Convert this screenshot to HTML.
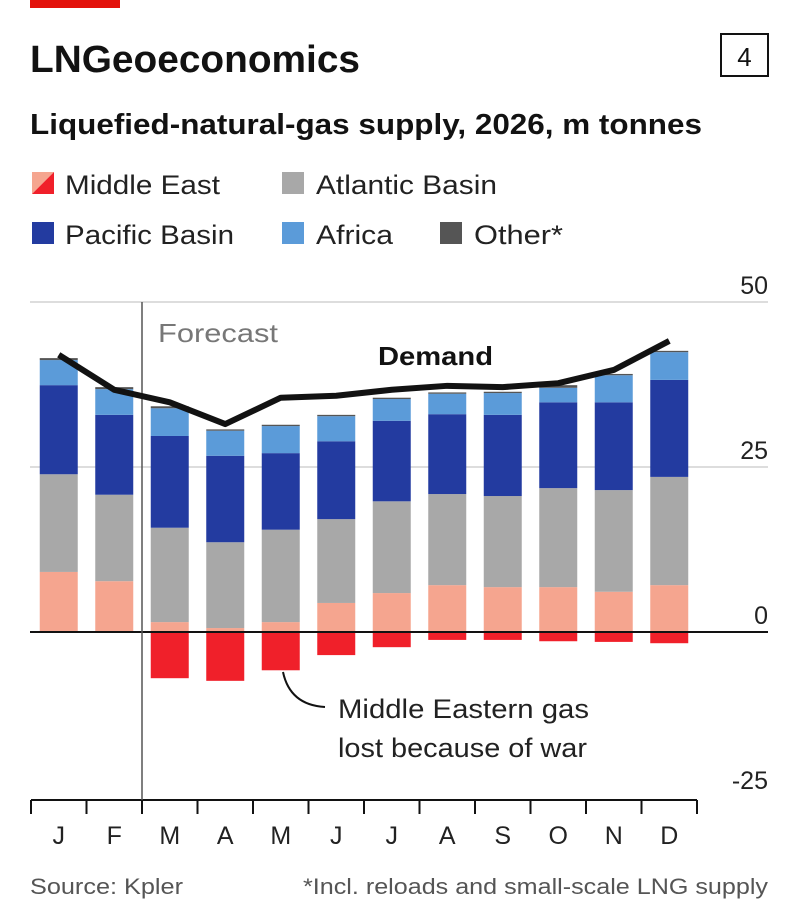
<!DOCTYPE html>
<html><head><meta charset="utf-8"><style>
body{margin:0;background:#fff;font-family:"Liberation Sans",sans-serif;}
#wrap{position:relative;width:800px;height:914px;overflow:hidden;background:#fff;}
</style></head><body>
<div id="wrap">
<svg id="svg" width="800" height="914">
<rect x="30" y="0" width="90" height="8" fill="#e3120b"/>
<text x="30" y="72" font-size="38" font-weight="bold" fill="#121212" textLength="330" lengthAdjust="spacingAndGlyphs">LNGeoeconomics</text>
<rect x="721" y="34" width="47" height="42" fill="none" stroke="#121212" stroke-width="2"/>
<text x="744.5" y="66" font-size="26" text-anchor="middle" fill="#121212">4</text>
<text x="30" y="134" font-size="29" font-weight="bold" fill="#121212" textLength="672" lengthAdjust="spacingAndGlyphs">Liquefied-natural-gas supply, 2026, m tonnes</text>
<g font-size="27" fill="#222">
 <g><polygon points="32,172 54,172 32,194" fill="#f5a58f"/><polygon points="54,172 54,194 32,194" fill="#f0202a"/><text x="65" y="194" textLength="155" lengthAdjust="spacingAndGlyphs">Middle East</text></g>
 <g><rect x="282" y="172" width="22" height="22" fill="#a8a8a8"/><text x="316" y="194" textLength="181" lengthAdjust="spacingAndGlyphs">Atlantic Basin</text></g>
 <g><rect x="32" y="222" width="22" height="22" fill="#233ba0"/><text x="65" y="244" textLength="169" lengthAdjust="spacingAndGlyphs">Pacific Basin</text></g>
 <g><rect x="282" y="222" width="22" height="22" fill="#5b9bd9"/><text x="316" y="244" textLength="77" lengthAdjust="spacingAndGlyphs">Africa</text></g>
 <g><rect x="440" y="222" width="22" height="22" fill="#555"/><text x="474" y="244" textLength="89" lengthAdjust="spacingAndGlyphs">Other*</text></g>
</g>
<g id="grid"></g>
<g id="bars"></g>
<g id="overlay"></g>
<text x="30" y="894" font-size="22" fill="#555" textLength="153" lengthAdjust="spacingAndGlyphs">Source: Kpler</text>
<text x="303" y="894" font-size="22" fill="#555" textLength="465" lengthAdjust="spacingAndGlyphs">*Incl. reloads and small-scale LNG supply</text>
</svg>
</div>
<script>
const months=["J","F","M","A","M","J","J","A","S","O","N","D"];
const middleEast=[9.1,7.7,1.5,0.6,1.5,4.4,5.9,7.1,6.8,6.8,6.1,7.1];
const atlantic=[14.8,13.1,14.3,13.0,14.0,12.7,13.9,13.8,13.8,15.0,15.4,16.4];
const pacific=[13.5,12.1,13.9,13.1,11.6,11.8,12.2,12.1,12.3,13.0,13.3,14.7];
const africa=[3.8,3.9,4.2,3.8,4.1,3.8,3.3,3.1,3.3,2.2,4.1,4.2];
const other=[0.3,0.3,0.3,0.2,0.2,0.2,0.2,0.2,0.2,0.4,0.2,0.2];
const lost=[0,0,-7.0,-7.4,-5.8,-3.5,-2.3,-1.2,-1.2,-1.4,-1.5,-1.7];
const demand=[42.0,36.7,34.8,31.5,35.5,35.8,36.7,37.3,37.1,37.7,39.7,44.1];
const yTicks=[50,25,0,-25];
const NS="http://www.w3.org/2000/svg";
const y=v=>632-v*6.6;
const x0=31,step=55.5,bw=38;
const xc=i=>x0+step*(i+0.5);
function mk(t,a,p){const e=document.createElementNS(NS,t);for(const k in a)e.setAttribute(k,a[k]);(p||document.getElementById('bars')).appendChild(e);return e;}
const grid=document.getElementById('grid'),ov=document.getElementById('overlay');
yTicks.forEach(v=>{
 if(v!==0&&v!==-25){const l=mk('line',{x1:30,x2:768,y1:y(v),y2:y(v),stroke:'#bbb','stroke-width':1},grid);
 
 }
 const t=mk('text',{x:768,y:y(v)-8,'font-size':25,'text-anchor':'end',fill:'#222'},grid);t.textContent=v;
 
 
});
const series=[[middleEast,'#f5a58f','middle-east'],[atlantic,'#a8a8a8','atlantic'],[pacific,'#233ba0','pacific'],[africa,'#5b9bd9','africa'],[other,'#555','other']];
months.forEach((m,i)=>{
 let base=0;
 series.forEach(([arr,c,n])=>{
  const r=mk('rect',{x:xc(i)-bw/2,y:y(base+arr[i]),width:bw,height:arr[i]*6.6,fill:c});
  
  
  base+=arr[i];
 });
 if(lost[i]<0){const r=mk('rect',{x:xc(i)-bw/2,y:y(0),width:bw,height:-lost[i]*6.6,fill:'#f0202a'});
  
  }
 const t=mk('text',{x:xc(i),y:844,'font-size':25,'text-anchor':'middle',fill:'#222'},ov);t.textContent=m;
 
 
});
let z=mk('line',{x1:30,x2:768,y1:y(0),y2:y(0),stroke:'#121212','stroke-width':2},ov);


let ax=mk('line',{x1:31,x2:x0+step*12,y1:800,y2:800,stroke:'#121212','stroke-width':2},ov);


for(let i=0;i<=12;i++){const t=mk('line',{x1:x0+step*i,x2:x0+step*i,y1:800,y2:814,stroke:'#121212','stroke-width':2},ov);
 
 }
let f=mk('line',{x1:x0+step*2,x2:x0+step*2,y1:302,y2:800,stroke:'#555','stroke-width':1.5},ov);


let ft=mk('text',{x:158,y:342,'font-size':26,fill:'#777',textLength:120,lengthAdjust:'spacingAndGlyphs'},ov);ft.textContent='Forecast';


let d=mk('polyline',{points:demand.map((v,i)=>xc(i)+','+y(v)).join(' '),fill:'none',stroke:'#121212','stroke-width':6,'stroke-linejoin':'round'},ov);


let dt=mk('text',{x:378,y:365,'font-size':26,'font-weight':'bold',fill:'#121212',textLength:115,lengthAdjust:'spacingAndGlyphs'},ov);dt.textContent='Demand';


let cl=mk('path',{d:'M283,672 Q290,705 325,707',fill:'none',stroke:'#121212','stroke-width':2},ov);


[['Middle Eastern gas',718,251],['lost because of war',757,249]].forEach(([s,yy,w])=>{const t=mk('text',{x:338,y:yy,'font-size':27,fill:'#222',textLength:w,lengthAdjust:'spacingAndGlyphs'},ov);t.textContent=s;
 
 });
</script>
</body></html>
